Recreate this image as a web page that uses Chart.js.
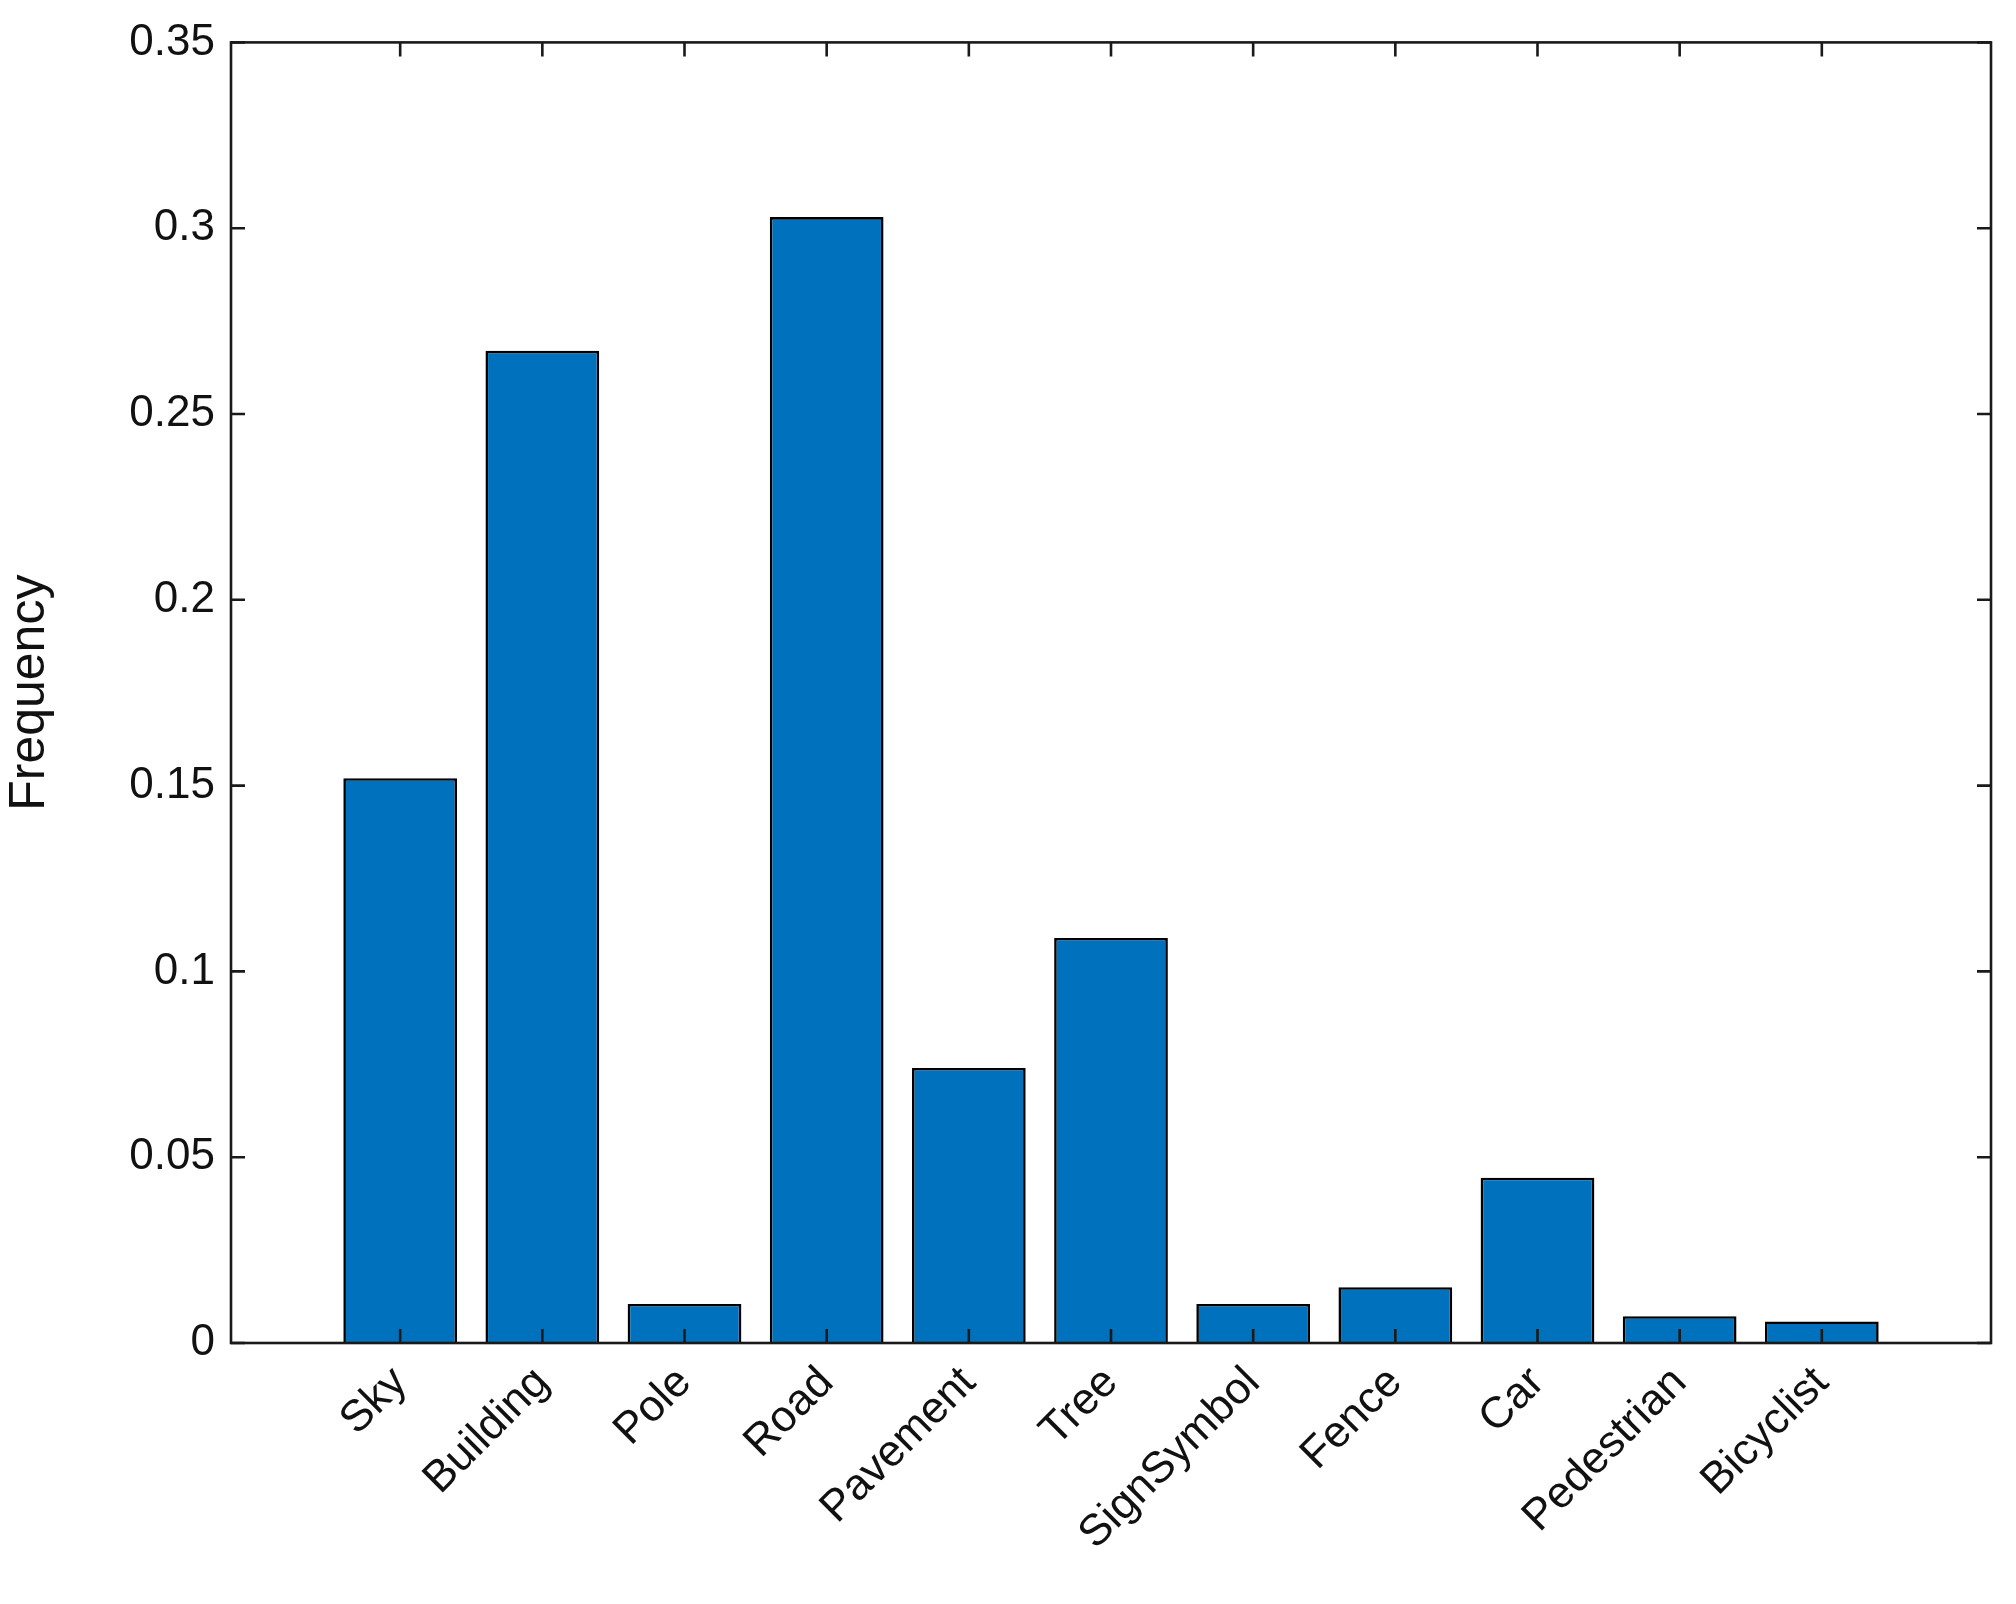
<!DOCTYPE html>
<html>
<head>
<meta charset="utf-8">
<script src="https://cdn.jsdelivr.net/npm/chart.js@4/dist/chart.umd.min.js"></script>
<style>
  html, body { margin: 0; padding: 0; background: #fff; }
  #wrap { width: 2016px; height: 1604px; }
</style>
</head>
<body>
<div id="wrap"><canvas id="chart" width="2016" height="1604"></canvas></div>
<script>
const categories = ['Sky', 'Building', 'Pole', 'Road', 'Pavement', 'Tree', 'SignSymbol', 'Fence', 'Car', 'Pedestrian', 'Bicyclist'];
const frequency = [0.152, 0.267, 0.0105, 0.303, 0.074, 0.109, 0.0105, 0.015, 0.0445, 0.0072, 0.0058];
const yTicks = [0, 0.05, 0.1, 0.15, 0.2, 0.25, 0.3, 0.35];

const FONT = 'Liberation Sans, Arial, sans-serif';

// MATLAB-style box with inner tick marks on all sides
const boxTicks = {
    id: 'boxTicks',
    afterDraw(chart) {
        const { ctx, chartArea: a, scales } = chart;
        const len = 14;
        ctx.save();
        ctx.strokeStyle = '#1a1a1a';
        ctx.lineWidth = 2.6;
        ctx.strokeRect(a.left, a.top, a.right - a.left, a.bottom - a.top);
        ctx.beginPath();
        scales.x.ticks.forEach(t => {
            const x = scales.x.getPixelForValue(t.value);
            ctx.moveTo(x, a.bottom); ctx.lineTo(x, a.bottom - len);
            ctx.moveTo(x, a.top); ctx.lineTo(x, a.top + len);
        });
        scales.y.ticks.forEach(t => {
            const y = scales.y.getPixelForValue(t.value);
            ctx.moveTo(a.left, y); ctx.lineTo(a.left + len, y);
            ctx.moveTo(a.right, y); ctx.lineTo(a.right - len, y);
        });
        ctx.stroke();
        ctx.restore();
    }
};

new Chart(document.getElementById('chart').getContext('2d'), {
    type: 'bar',
    data: {
        datasets: [{
            label: 'Frequency',
            data: frequency.map((v, i) => ({ x: i + 1, y: v })),
            backgroundColor: '#0072BD',
            borderColor: '#000',
            borderWidth: 2.6,
            barPercentage: 0.8,
            categoryPercentage: 1
        }]
    },
    options: {
        responsive: false,
        animation: false,
        layout: { padding: { top: 42, right: 25, left: 0, bottom: 0 } },
        plugins: { legend: { display: false }, tooltip: { enabled: false } },
        scales: {
            x: {
                type: 'linear',
                offset: false,
                min: -0.19,
                max: 12.19,
                grid: { display: false, drawTicks: false, offset: false },
                border: { display: false },
                afterBuildTicks: s => { s.ticks = categories.map((c, i) => ({ value: i + 1 })); },
                afterFit: s => { s.height = 261; },
                ticks: {
                    autoSkip: false,
                    minRotation: 45,
                    maxRotation: 45,
                    padding: 14,
                    color: '#111',
                    font: { family: FONT, size: 44 },
                    callback: v => categories[v - 1]
                }
            },
            y: {
                min: 0,
                max: 0.35,
                grid: { display: false, drawTicks: false },
                border: { display: false },
                afterBuildTicks: s => { s.ticks = yTicks.map(v => ({ value: v })); },
                afterFit: s => { s.width = 231; },
                title: {
                    display: true,
                    text: 'Frequency',
                    color: '#111',
                    font: { family: FONT, size: 50 },
                    padding: { top: 0, bottom: 4 }
                },
                ticks: {
                    padding: 16,
                    color: '#111',
                    font: { family: FONT, size: 44 },
                    callback: v => String(Number(v.toFixed(2)))
                }
            }
        }
    },
    plugins: [boxTicks]
});
</script>
</body>
</html>
